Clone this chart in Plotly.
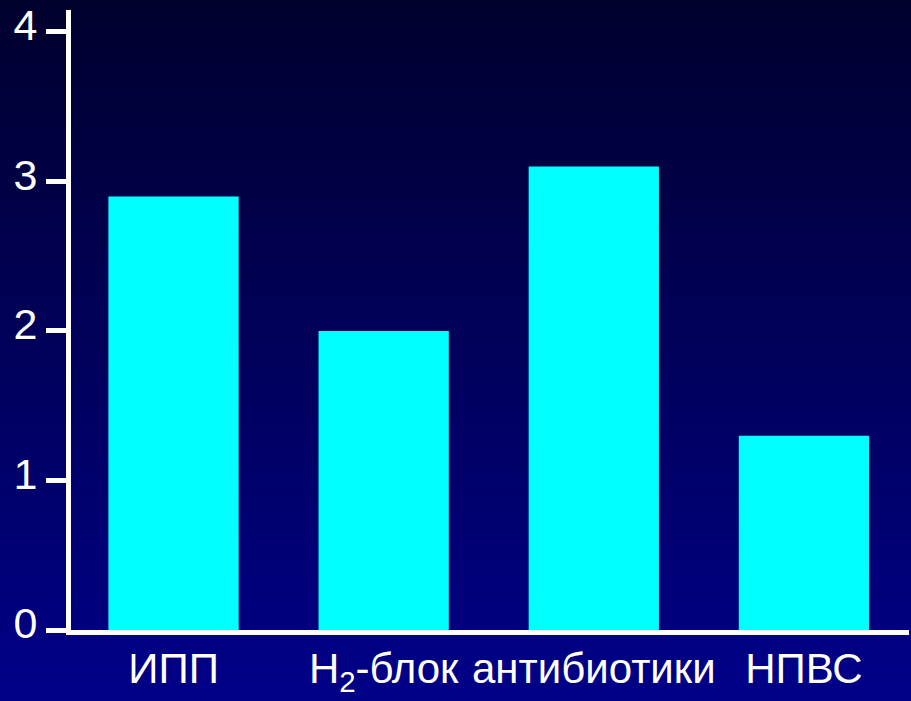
import plotly.graph_objects as go

categories = ["ИПП", "H<sub>2</sub>-блок", "антибиотики", "НПВС"]
values = [2.9, 2.0, 3.1, 1.3]
y_ticks = [0, 1, 2, 3, 4]

W, H = 911, 701
ML, MR, MT, MB = 71, 2, 10, 71
plot_h = H - MT - MB

fig = go.Figure()
fig.add_trace(go.Bar(
    x=list(range(len(categories))),
    y=values,
    width=0.62,
    marker=dict(color="#00FFFF", line=dict(width=0)),
))

# vertical gradient background
n = 140
top_c = (0, 0, 44)
bot_c = (0, 0, 140)
shapes = []
y_top = 1 + MT / plot_h + 0.02
y_bot = -MB / plot_h - 0.05
for i in range(n):
    t = i / (n - 1)
    c = tuple(int(round(top_c[k] + (bot_c[k] - top_c[k]) * t)) for k in range(3))
    y1 = y_top - (y_top - y_bot) * i / n
    y0 = y_top - (y_top - y_bot) * (i + 1) / n - 0.002
    shapes.append(dict(type="rect", xref="paper", yref="paper", x0=-0.2, x1=1.2,
                       y0=y0, y1=y1, fillcolor="rgb(%d,%d,%d)" % c,
                       line=dict(width=0), layer="below"))

fig.update_layout(
    width=W, height=H,
    margin=dict(l=ML, r=MR, t=MT, b=MB, pad=0),
    paper_bgcolor="rgb(0,0,140)",
    plot_bgcolor="rgba(0,0,0,0)",
    showlegend=False,
    shapes=shapes,
    bargap=0.38,
    font=dict(family="Liberation Sans, Arial, sans-serif", color="white", size=42),
    xaxis=dict(
        range=[-0.488, 3.5],
        tickmode="array",
        tickvals=list(range(len(categories))),
        ticktext=categories,
        showgrid=False, zeroline=False,
        showline=True, linecolor="white", linewidth=5,
        ticks="", tickfont=dict(size=42, color="white"),
        ticklabelstandoff=-2,
        automargin=False,
    ),
    yaxis=dict(
        range=[0, 4.147],
        tickmode="array",
        tickvals=y_ticks,
        ticktext=[str(v) for v in y_ticks],
        showgrid=False, zeroline=False,
        showline=True, linecolor="white", linewidth=5,
        ticks="outside", ticklen=20, tickwidth=5, tickcolor="white",
        tickfont=dict(size=43, color="white"),
        ticklabelstandoff=0,
        ticklabelshift=-7,
        automargin=False,
    ),
)

fig.write_html("out.html")
